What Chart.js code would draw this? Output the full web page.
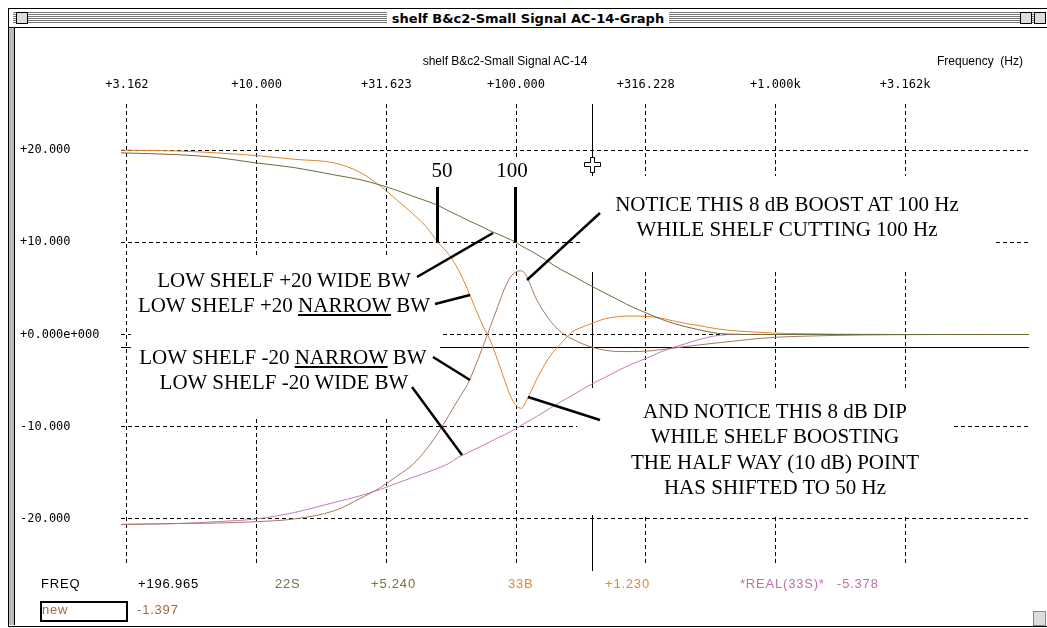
<!DOCTYPE html>
<html><head><meta charset="utf-8">
<script src="https://cdn.jsdelivr.net/npm/chart.js@4.4.1/dist/chart.umd.min.js"></script>
<style>
html,body{margin:0;padding:0;background:#fff;}
body{width:1047px;height:628px;position:relative;overflow:hidden;font-family:"Liberation Sans",Arial,sans-serif;}
#c{position:absolute;left:0;top:0;}
.abs{position:absolute;white-space:nowrap;}
.ann{position:absolute;font-family:"Liberation Serif","Times New Roman",serif;font-size:21px;line-height:25px;height:25px;color:#000;text-align:center;white-space:nowrap;width:440px;}
.st{position:absolute;font-family:"Liberation Sans",Arial,sans-serif;font-size:13px;letter-spacing:0.8px;line-height:15px;white-space:nowrap;}
#frame{position:absolute;left:8px;top:8px;width:1039px;height:617px;border:1px solid #000;border-right:none;}
#titlebar{position:absolute;left:9px;top:9px;width:1038px;height:18px;background:#fff;border-bottom:1px solid #000;}
#stripes{position:absolute;left:4px;right:4px;top:3px;height:12px;background:repeating-linear-gradient(to bottom,#777 0px,#777 1px,#fff 1px,#fff 2px);}
#closebox{position:absolute;left:7px;top:3px;width:10px;height:10px;border:1px solid #000;background:#ddd;}
.ibox{position:absolute;top:3px;width:10px;height:10px;border:1px solid #000;background:#ddd;}
#ttl{position:absolute;left:0;width:1038px;top:0;height:18px;text-align:center;}
#ttl span{background:#fff;padding:0 5px;font-family:"DejaVu Sans",sans-serif;font-weight:bold;font-size:13px;line-height:18px;}
#leftbar{position:absolute;left:9px;top:28px;width:5px;height:597px;background:#bbb;border-right:1px solid #000;}
</style></head>
<body>
<canvas id="c" width="1047" height="628"></canvas>
<div id="frame"></div>
<div id="leftbar"></div>
<div id="titlebar"><div id="stripes"></div><div id="closebox"></div><div class="ibox" style="left:1011px;"></div><div class="ibox" style="left:1025px;"></div><div id="ttl"><span>shelf B&amp;c2-Small Signal AC-14-Graph</span></div></div>
<div class="abs" id="sub" style="left:380px;width:250px;top:54px;text-align:center;font-size:12px;">shelf B&amp;c2-Small Signal AC-14</div>
<div class="abs" style="left:937px;top:54px;font-size:12px;">Frequency&nbsp;&nbsp;(Hz)</div>

<div class="ann" style="left:64px;top:268px;">LOW SHELF +20 WIDE BW</div>
<div class="ann" style="left:64px;top:293px;">LOW SHELF +20 <u>NARROW</u> BW</div>
<div class="ann" style="left:63px;top:345px;">LOW SHELF -20 <u>NARROW</u> BW</div>
<div class="ann" style="left:64px;top:370px;">LOW SHELF -20 WIDE BW</div>
<div class="ann" style="left:222px;top:158px;">50</div>
<div class="ann" style="left:292px;top:158px;">100</div>
<div class="ann" style="left:567px;top:192px;">NOTICE THIS 8 dB BOOST AT 100 Hz</div>
<div class="ann" style="left:567px;top:217px;">WHILE SHELF CUTTING 100 Hz</div>
<div class="ann" style="left:555px;top:399px;">AND NOTICE THIS 8 dB DIP</div>
<div class="ann" style="left:555px;top:424px;">WHILE SHELF BOOSTING</div>
<div class="ann" style="left:555px;top:450px;">THE HALF WAY (10 dB) POINT</div>
<div class="ann" style="left:555px;top:475px;">HAS SHIFTED TO 50 Hz</div>

<svg class="abs" style="left:0;top:0;" width="1047" height="628">
 <g stroke="#000" stroke-width="2.5" stroke-linecap="butt">
  <line x1="417" y1="277" x2="493" y2="233"/>
  <line x1="435" y1="304" x2="470" y2="295"/>
  <line x1="433" y1="357" x2="470" y2="380"/>
  <line x1="412" y1="387" x2="462" y2="455"/>
  <line x1="437.5" y1="187" x2="437.5" y2="242" stroke-width="3"/>
  <line x1="515.5" y1="187" x2="515.5" y2="242" stroke-width="3"/>
  <line x1="600" y1="213" x2="527" y2="280"/>
  <line x1="528" y1="397" x2="600" y2="420"/>
 </g>
 <path d="M590.5 157.5 h4 v5 h6 v4 h-6 v6 h-4 v-6 h-6 v-4 h6 z" fill="#fff" stroke="#000" stroke-width="1"/>
 <rect x="1033.5" y="611.5" width="12" height="14" fill="#ddd" stroke="#888"/>
</svg>

<div class="st" style="left:41px;top:576px;">FREQ</div>
<div class="st" style="left:138px;top:576px;">+196.965</div>
<div class="st" style="left:275px;top:576px;color:#7a7040;">22S</div>
<div class="st" style="left:371px;top:576px;color:#7a7040;">+5.240</div>
<div class="st" style="left:508px;top:576px;color:#e08a30;">33B</div>
<div class="st" style="left:605px;top:576px;color:#e08a30;">+1.230</div>
<div class="st" style="left:740px;top:576px;color:#c070a8;">*REAL(33S)*</div>
<div class="st" style="left:837px;top:576px;color:#c070a8;">-5.378</div>
<div class="abs" style="left:40px;top:601px;width:84px;height:17px;border:2px solid #000;"></div>
<div class="st" style="left:42px;top:602px;color:#a06848;">new</div>
<div class="st" style="left:137px;top:602px;color:#a06848;">-1.397</div>

<script>
// Frequency points (Hz)
const freqs = [3,5,7,10,14,20,25,30,35,40,45,50,55,60,65,70,75,80,85,90,95,100,105,110,115,120,130,140,150,165,180,200,220,250,280,320,360,400,450,500,600,700,850,1000,1300,1700,2200,3000,4500,6500,9500];
// 22S : LOW SHELF +20 WIDE BW (dB)
const shelfBoostWide = [19.7,19.5,19.2,18.6,18.1,17.3,16.8,16.2,15.6,15.0,14.5,14.0,13.4,12.9,12.4,12.0,11.6,11.2,10.9,10.6,10.3,10.0,9.6,9.3,9.0,8.7,8.1,7.5,7.0,6.4,5.8,5.1,4.5,3.7,3.0,2.3,1.7,1.25,0.85,0.55,0.12,0.03,0,0,0,0,0,0,0,0,0];
// 33B : LOW SHELF +20 NARROW BW (dB)
const shelfBoostNarrow = [20.0,19.9,19.7,19.4,19.0,18.6,17.6,16.1,14.5,13.1,11.7,10.0,8.7,7.0,4.9,2.7,0.8,-0.8,-2.8,-4.8,-6.6,-7.7,-8.0,-7.1,-6.0,-4.9,-3.1,-1.8,-0.9,0.3,0.8,1.3,1.7,1.95,2.0,1.95,1.8,1.5,1.2,1.0,0.6,0.4,0.25,0.15,0.08,0.04,0.02,0,0,0,0];
// new : LOW SHELF -20 NARROW BW (dB)
const shelfCutNarrow = [-20.6,-20.5,-20.45,-20.3,-20.0,-19.1,-17.8,-16.6,-15.3,-14.1,-12.5,-10.7,-8.8,-7.0,-5.4,-3.3,-1.1,1.0,3.0,4.9,6.2,6.8,6.9,6.3,5.0,3.8,2.2,1.0,0.2,-0.5,-1.0,-1.45,-1.7,-1.85,-1.85,-1.8,-1.65,-1.5,-1.3,-1.15,-0.9,-0.7,-0.45,-0.3,-0.18,-0.1,-0.05,-0.02,0,0,0];
// *REAL(33S)* : LOW SHELF -20 WIDE BW (dB)
const shelfCutWide = [-20.6,-20.5,-20.3,-20.0,-19.3,-18.2,-17.5,-16.8,-16.1,-15.5,-15.0,-14.5,-14.0,-13.3,-12.85,-12.4,-12.0,-11.6,-11.2,-10.9,-10.55,-10.2,-9.85,-9.5,-9.2,-8.9,-8.3,-7.75,-7.25,-6.6,-5.95,-5.25,-4.65,-3.85,-3.2,-2.55,-1.9,-1.45,-1.0,-0.6,-0.1,0,0,0,0,0,0,0,0,0,0];

const xTickValues = [3.162,10,31.623,100,316.228,1000,3162.3];
const xTickLabels = ['+3.162','+10.000','+31.623','+100.000','+316.228','+1.000k','+3.162k'];
const yTickValues = [20,10,0,-10,-20];
const yTickLabels = ['+20.000','+10.000','+0.000e+000','-10.000','-20.000'];
const cursorFreq = 196.965;
const cursorLevel = -1.397;

const toPts = arr => freqs.map((f,i)=>({x:f,y:arr[i]}));

const gridEraser = {
  id:'gridEraser',
  beforeDatasetsDraw(chart){
    const {ctx, chartArea:a, scales:{x,y}} = chart;
    const cx = Math.round(x.getPixelForValue(cursorFreq))+0.5;
    const cy = Math.round(y.getPixelForValue(cursorLevel))+0.5;
    ctx.save();
    ctx.strokeStyle='#000'; ctx.lineWidth=1; ctx.setLineDash([]);
    ctx.beginPath();
    ctx.moveTo(cx,a.top); ctx.lineTo(cx,a.bottom+6);
    ctx.moveTo(a.left,cy); ctx.lineTo(a.right,cy);
    ctx.stroke();
    ctx.fillStyle='#fff';
    // areas cleared behind the annotation texts
    ctx.fillRect(131,256,309,163);
    ctx.fillRect(430,157,100,30);
    ctx.fillRect(580,176,413,96);
    ctx.fillRect(577,388,376,127);
    ctx.restore();
  }
};

new Chart(document.getElementById('c'), {
  type:'line',
  data:{datasets:[
    {label:'22S', data:toPts(shelfBoostWide), borderColor:'#6e6a3a'},
    {label:'33B', data:toPts(shelfBoostNarrow), borderColor:'#e2842e'},
    {label:'new', data:toPts(shelfCutNarrow), borderColor:'#a8785a'},
    {label:'*REAL(33S)*', data:toPts(shelfCutWide), borderColor:'#c47ab8'}
  ]},
  options:{
    responsive:false, animation:false, devicePixelRatio:1,
    layout:{padding:{left:20,right:18,top:60,bottom:63}},
    elements:{line:{borderWidth:1,cubicInterpolationMode:'monotone'},point:{radius:0}},
    plugins:{legend:{display:false},tooltip:{enabled:false}},
    scales:{
      x:{type:'logarithmic',position:'top',min:3,max:9500,bounds:'data',
        afterBuildTicks:s=>{s.ticks=xTickValues.map(v=>({value:v}));},
        afterFit:s=>{s.height=44;},
        ticks:{autoSkip:false,maxRotation:0,padding:12,color:'#000',font:{family:'"DejaVu Sans Mono", monospace',size:12},callback:(v,i)=>xTickLabels[i]},
        grid:{color:'#000',lineWidth:1,drawTicks:false},
        border:{display:false,dash:[4,3]}},
      y:{min:-25,max:25,position:'left',
        afterBuildTicks:s=>{s.ticks=yTickValues.map(v=>({value:v}));},
        afterFit:s=>{s.width=101;},
        ticks:{crossAlign:'far',padding:0,color:'#000',font:{family:'"DejaVu Sans Mono", monospace',size:12},callback:(v,i)=>yTickLabels[i]},
        grid:{color:'#000',lineWidth:1,drawTicks:false},
        border:{display:false,dash:[4,3]}}
    }
  },
  plugins:[gridEraser]
});
</script>
</body></html>
